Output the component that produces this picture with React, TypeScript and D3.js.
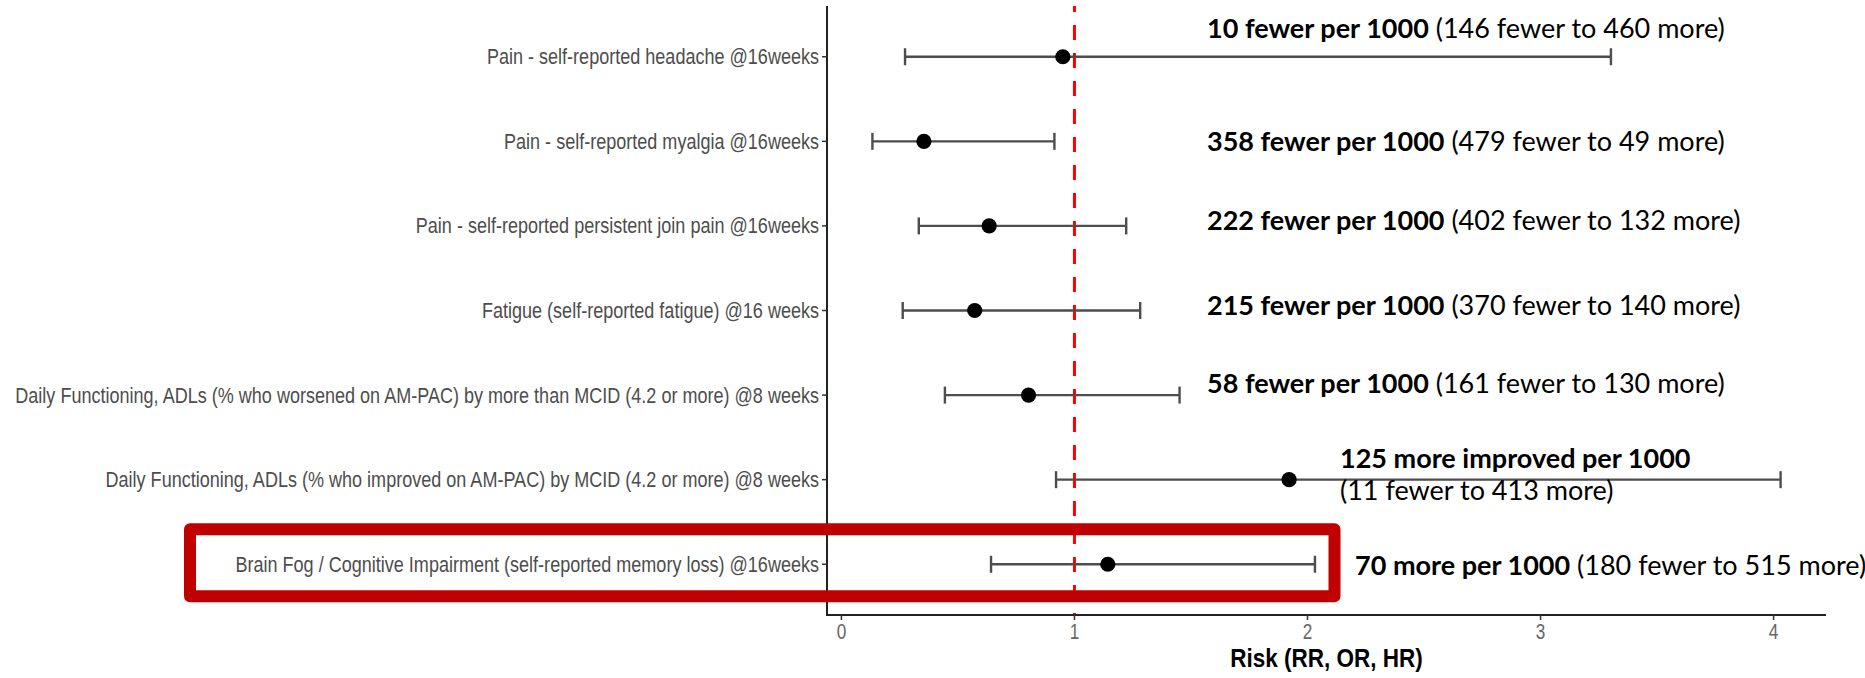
import React from "react";
import * as d3 from "d3";

// Outcomes, listed top to bottom
const outcomes = [
  "Pain - self-reported headache @16weeks",
  "Pain - self-reported myalgia @16weeks",
  "Pain - self-reported persistent join pain @16weeks",
  "Fatigue (self-reported fatigue) @16 weeks",
  "Daily Functioning, ADLs (% who worsened on AM-PAC) by more than MCID (4.2 or more) @8 weeks",
  "Daily Functioning, ADLs (% who improved on AM-PAC) by MCID (4.2 or more) @8 weeks",
  "Brain Fog / Cognitive Impairment (self-reported memory loss) @16weeks",
];

// Point estimates and 95% confidence limits (ratio scale)
const estimates = [0.95, 0.354, 0.634, 0.572, 0.803, 1.921, 1.143];
const lowerCI = [0.273, 0.133, 0.332, 0.263, 0.444, 0.921, 0.642];
const upperCI = [3.302, 0.914, 1.222, 1.282, 1.451, 4.03, 2.032];

// Absolute effect annotations
const effectMain = [
  "10 fewer per 1000",
  "358 fewer per 1000",
  "222 fewer per 1000",
  "215 fewer per 1000",
  "58 fewer per 1000",
  "125 more improved per 1000",
  "70 more per 1000",
];
const effectRange = [
  "(146 fewer to 460 more)",
  "(479 fewer to 49 more)",
  "(402 fewer to 132 more)",
  "(370 fewer to 140 more)",
  "(161 fewer to 130 more)",
  "(11 fewer to 413 more)",
  "(180 fewer to 515 more)",
];
// rows whose range goes on a second line
const wrapRange = [false, false, false, false, false, true, false];

const xTicks = [0, 1, 2, 3, 4];
const nullValue = 1;
const highlightRow = 6;
const xTitle = "Risk (RR, OR, HR)";

const W = 1865;
const H = 678;
const panel = { left: 827, right: 1826, top: 6, bottom: 615 };

// annotation placement (left x, baseline offset from the row centre)
const noteX = [1207, 1207, 1207, 1207, 1207, 1340, 1355];
const noteDy = [-19, 10, 4, 4, -2, -12, 11];
const noteLineGap = 32;

const rFont = "'Liberation Sans', Arial, Helvetica, sans-serif";
const noteFont = "Lato, 'Open Sans', sans-serif";
const squeeze = 0.82;

export default function App() {
  const lo = d3.min(lowerCI) as number;
  const hi = d3.max(upperCI) as number;
  const pad = (hi - lo) * 0.05;
  const x = d3
    .scaleLinear()
    .domain([lo - pad, hi + pad])
    .range([panel.left, panel.right]);
  const y = d3
    .scalePoint<string>()
    .domain(outcomes)
    .range([panel.top, panel.bottom])
    .padding(0.6);

  const cap = 8.5;
  const hy = y(outcomes[highlightRow]) as number;

  return (
    <svg
      width={W}
      height={H}
      style={{ position: "absolute", left: 0, top: 0, display: "block", background: "#fff" }}
    >
      {/* reference line at no effect */}
      <line
        x1={x(nullValue)}
        x2={x(nullValue)}
        y1={panel.top}
        y2={panel.bottom}
        stroke="#FF0000"
        strokeWidth={3}
        strokeDasharray="15 13"
        strokeDashoffset={9}
      />

      {/* confidence intervals and estimates */}
      {outcomes.map((o, i) => {
        const cy = y(o) as number;
        const x0 = x(lowerCI[i]);
        const x1 = x(upperCI[i]);
        return (
          <g key={o}>
            <line x1={x0} x2={x1} y1={cy} y2={cy} stroke="#4d4d4d" strokeWidth={2.4} />
            <line x1={x0} x2={x0} y1={cy - cap} y2={cy + cap} stroke="#4d4d4d" strokeWidth={2.4} />
            <line x1={x1} x2={x1} y1={cy - cap} y2={cy + cap} stroke="#4d4d4d" strokeWidth={2.4} />
            <circle cx={x(estimates[i])} cy={cy} r={7.6} fill="#000" />
          </g>
        );
      })}

      {/* axes */}
      <line x1={panel.left} x2={panel.left} y1={panel.top} y2={panel.bottom + 1} stroke="#222" strokeWidth={2} />
      <line x1={panel.left - 1} x2={panel.right} y1={panel.bottom} y2={panel.bottom} stroke="#222" strokeWidth={2} />

      {outcomes.map((o) => {
        const cy = y(o) as number;
        return (
          <g key={"yl" + o}>
            <line x1={panel.left - 5} x2={panel.left} y1={cy} y2={cy} stroke="#333" strokeWidth={1.5} />
            <text
              transform={`translate(${panel.left - 8},${cy + 7.5}) scale(${squeeze},1)`}
              textAnchor="end"
              fontFamily={rFont}
              fontSize={22}
              fill="#4d4d4d"
            >
              {o}
            </text>
          </g>
        );
      })}

      {xTicks.map((t) => (
        <g key={"xt" + t}>
          <line x1={x(t)} x2={x(t)} y1={panel.bottom} y2={panel.bottom + 5} stroke="#333" strokeWidth={1.5} />
          <text
            transform={`translate(${x(t)},${panel.bottom + 24}) scale(0.78,1)`}
            textAnchor="middle"
            fontFamily={rFont}
            fontSize={22}
            fill="#666"
          >
            {t}
          </text>
        </g>
      ))}

      <text
        transform={`translate(${(panel.left + panel.right) / 2},${H - 11}) scale(0.9,1)`}
        textAnchor="middle"
        fontFamily={rFont}
        fontSize={25}
        fontWeight="bold"
        fill="#000"
      >
        {xTitle}
      </text>

      {/* highlight box around the selected outcome */}
      <rect
        x={190}
        y={hy - 35}
        width={1144.5}
        height={67}
        fill="none"
        stroke="#C00000"
        strokeWidth={12}
        strokeLinejoin="round"
      />

      {/* absolute effect annotations */}
      {outcomes.map((o, i) => {
        const base = (y(o) as number) + noteDy[i];
        if (wrapRange[i]) {
          return (
            <g key={"n" + o} fontFamily={noteFont} fontSize={27} fill="#000">
              <text x={noteX[i]} y={base} fontWeight="bold">
                {effectMain[i]}
              </text>
              <text x={noteX[i]} y={base + noteLineGap}>
                {effectRange[i]}
              </text>
            </g>
          );
        }
        return (
          <text key={"n" + o} x={noteX[i]} y={base} fontFamily={noteFont} fontSize={27} fill="#000">
            <tspan fontWeight="bold">{effectMain[i]}</tspan>
            <tspan>{" " + effectRange[i]}</tspan>
          </text>
        );
      })}
    </svg>
  );
}
